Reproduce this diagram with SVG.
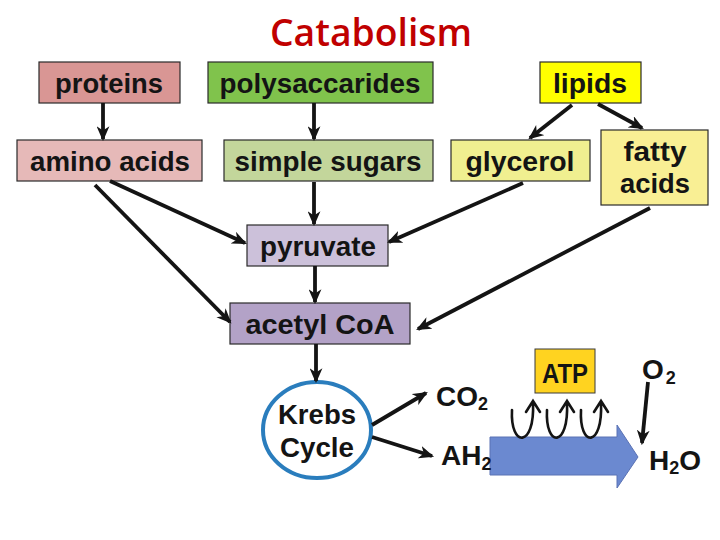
<svg xmlns="http://www.w3.org/2000/svg" width="720" height="540" viewBox="0 0 720 540">
<style>
.box{stroke:#2a2a2a;stroke-width:1.2}
.lbl{font-family:"Liberation Sans",Arial,sans-serif;font-weight:bold;font-size:27px;fill:#141414;text-anchor:middle}
.chem{font-family:"Liberation Sans",Arial,sans-serif;font-weight:bold;font-size:28px;fill:#141414}
.sub{font-size:18px}
.con{stroke:#141414;stroke-width:3.8;fill:none;marker-end:url(#ah)}
.curl{stroke:#141414;stroke-width:2.6;fill:none;stroke-linecap:round}
</style>
<defs>
<marker id="ah" viewBox="0 0 14 12" refX="12" refY="6" markerWidth="15" markerHeight="13" markerUnits="userSpaceOnUse" orient="auto">
<path d="M0,0 L14,6 L0,12 L4,6 z" fill="#141414"/>
</marker>
</defs>
<rect width="720" height="540" fill="#ffffff"/>
<text id="title" x="371" y="46" text-anchor="middle" font-family="'Open Sans','Noto Sans',sans-serif" font-weight="600" font-size="38" fill="#c00000" textLength="202" lengthAdjust="spacingAndGlyphs">Catabolism</text>

<g id="proteins"><rect class="box" x="39" y="62" width="141" height="41" fill="#d99694"/><text class="lbl" x="109" y="93" textLength="108" lengthAdjust="spacingAndGlyphs">proteins</text></g>
<g id="polysaccarides"><rect class="box" x="208" y="62" width="225" height="41" fill="#80c34c"/><text class="lbl" x="320" y="93" textLength="201" lengthAdjust="spacingAndGlyphs">polysaccarides</text></g>
<g id="lipids"><rect class="box" x="540" y="62" width="101" height="41" fill="#ffff00"/><text class="lbl" x="590" y="93" textLength="74" lengthAdjust="spacingAndGlyphs">lipids</text></g>
<g id="amino-acids"><rect class="box" x="17" y="140" width="185" height="41" fill="#e6b9b8"/><text class="lbl" x="110" y="171" textLength="160" lengthAdjust="spacingAndGlyphs">amino acids</text></g>
<g id="simple-sugars"><rect class="box" x="224" y="140" width="209" height="41" fill="#c3d69b"/><text class="lbl" x="328" y="171" textLength="187" lengthAdjust="spacingAndGlyphs">simple sugars</text></g>
<g id="glycerol"><rect class="box" x="451" y="140" width="139" height="41" fill="#f0ef90"/><text class="lbl" x="520" y="171" textLength="109" lengthAdjust="spacingAndGlyphs">glycerol</text></g>
<g id="fatty-acids"><rect class="box" x="601" y="130" width="107" height="75" fill="#f9ef94"/><text class="lbl" x="655" y="161" textLength="63" lengthAdjust="spacingAndGlyphs">fatty</text><text class="lbl" x="655" y="193" textLength="70" lengthAdjust="spacingAndGlyphs">acids</text></g>
<g id="pyruvate"><rect class="box" x="247" y="225" width="141" height="41" fill="#ccc1da"/><text class="lbl" x="318" y="256" textLength="116" lengthAdjust="spacingAndGlyphs">pyruvate</text></g>
<g id="acetyl-coa"><rect class="box" x="230" y="303" width="180" height="41" fill="#b3a2c7"/><text class="lbl" x="320" y="334" textLength="149" lengthAdjust="spacingAndGlyphs">acetyl CoA</text></g>
<g id="krebs"><ellipse cx="317" cy="430" rx="54" ry="48" fill="#ffffff" stroke="#2a7dbd" stroke-width="4"/><text class="lbl" x="317" y="424" font-size="25" textLength="78" lengthAdjust="spacingAndGlyphs">Krebs</text><text class="lbl" x="317" y="457" font-size="25" textLength="74" lengthAdjust="spacingAndGlyphs">Cycle</text></g>
<g id="atp"><rect x="535" y="349" width="60" height="44" fill="#ffd320" stroke="#3a3a3a" stroke-width="1"/><text class="lbl" x="565" y="383" font-size="27" textLength="46" lengthAdjust="spacingAndGlyphs">ATP</text></g>
<g id="electron-transport"><path d="M490,437 L617,437 L617,425 L638,457 L617,488 L617,475 L490,475 z" fill="#6b89d0" stroke="#5a72b4" stroke-width="1"/></g>
<g id="co2"><text class="chem" x="436" y="406">CO<tspan class="sub" dy="4">2</tspan></text></g>
<g id="ah2"><text class="chem" x="441" y="465">AH<tspan class="sub" dy="5">2</tspan></text></g>
<g id="o2"><text class="chem" x="642" y="379">O<tspan class="sub" dx="2" dy="5">2</tspan></text></g>
<g id="h2o"><text class="chem" x="649" y="470">H<tspan class="sub" dy="4">2</tspan><tspan dy="-4">O</tspan></text></g>

<g id="connectors">
<line class="con" x1="103" y1="103" x2="103" y2="139"/>
<line class="con" x1="314" y1="103" x2="314" y2="139"/>
<line class="con" x1="572" y1="105" x2="530" y2="138"/>
<line class="con" x1="598" y1="104" x2="642" y2="128"/>
<line class="con" x1="110" y1="181" x2="245" y2="243"/>
<line class="con" x1="95" y1="185" x2="230" y2="322"/>
<line class="con" x1="314" y1="182" x2="314" y2="224"/>
<line class="con" x1="523" y1="183" x2="389" y2="242"/>
<line class="con" x1="650" y1="208" x2="418" y2="329"/>
<line class="con" x1="315" y1="266" x2="315" y2="302"/>
<line class="con" x1="316" y1="344" x2="316" y2="381"/>
<line class="con" x1="372" y1="425" x2="426" y2="393"/>
<line class="con" x1="372" y1="437" x2="432" y2="456"/>
<line class="con" x1="648" y1="382" x2="642" y2="443"/>
<path class="curl" d="M512,410 C510,448 535,448 533,403 M526,412 L533,401 L540,412"/>
<path class="curl" d="M547,410 C545,448 569,448 567,403 M560,412 L567,401 L574,412"/>
<path class="curl" d="M581,410 C579,448 603,448 601,403 M594,412 L601,401 L608,412"/>
</g>
</svg>
